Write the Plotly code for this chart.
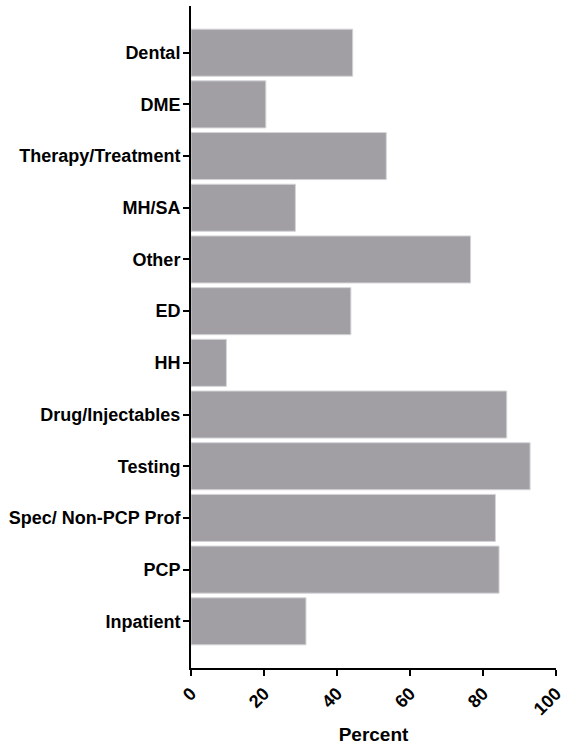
import plotly.graph_objects as go

categories = ["Dental", "DME", "Therapy/Treatment", "MH/SA", "Other", "ED", "HH",
              "Drug/Injectables", "Testing", "Spec/ Non-PCP Prof", "PCP", "Inpatient"]
percent = [44.3, 20.5, 53.5, 28.6, 76.6, 43.8, 9.7, 86.5, 92.9, 83.4, 84.4, 31.5]
x_ticks = [0, 20, 40, 60, 80, 100]

FONT = "Liberation Sans, Arial, sans-serif"

fig = go.Figure(go.Bar(
    x=percent, y=categories, orientation="h",
    marker=dict(color="#A19FA4", line=dict(color="#D4D3D6", width=1)),
    width=0.91,
))

fig.update_layout(
    width=564, height=748,
    margin=dict(l=191, r=8, t=6, b=80),
    paper_bgcolor="white", plot_bgcolor="white",
    showlegend=False,
    font=dict(family=FONT, size=18, color="black"),
    xaxis=dict(
        range=[0, 100], tickvals=x_ticks, ticktext=[str(v) for v in x_ticks],
        tickangle=-45, ticks="outside", ticklen=6, tickwidth=2, tickcolor="black",
        showline=True, linecolor="black", linewidth=2, showgrid=False, zeroline=False,
        tickfont=dict(family=FONT, size=18, color="black", weight="bold"),
        title=dict(text="<b>Percent</b>", font=dict(family=FONT, size=19, color="black"), standoff=10),
        automargin=False, ticklabeloverflow="allow",
    ),
    yaxis=dict(
        type="category", categoryorder="array", categoryarray=categories,
        range=[11.903, -0.903],
        ticks="outside", ticklen=6, tickwidth=2, tickcolor="black",
        showline=True, linecolor="black", linewidth=2, showgrid=False, zeroline=False,
        tickfont=dict(family=FONT, size=18, color="black", weight="bold"),
        ticklabelstandoff=-1, automargin=False, ticklabeloverflow="allow",
    ),
)

fig.write_html("out.html", config={"displayModeBar": False},
               post_script="document.body.style.margin='0';document.body.style.overflow='hidden';")
